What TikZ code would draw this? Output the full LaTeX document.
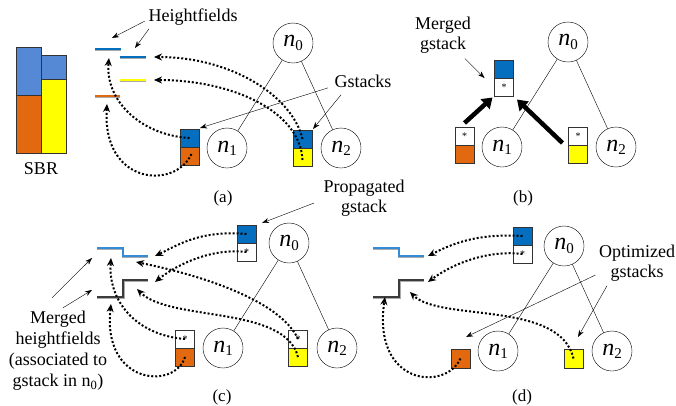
\documentclass[tikz,border=0pt]{standalone}
\usepackage{fontspec}
\setmainfont{Liberation Serif}
\newfontfamily\lserif{Liberation Serif}
\usetikzlibrary{arrows.meta,positioning}

\definecolor{sbrblue}{RGB}{85,137,213}
\definecolor{gblue}{RGB}{5,110,190}
\definecolor{hfblue}{RGB}{50,140,215}
\definecolor{gorange}{RGB}{226,105,15}
\definecolor{gyellow}{RGB}{255,255,0}
\definecolor{hfgrey}{RGB}{170,170,170}
\definecolor{hfdark}{RGB}{60,60,60}

\newcommand{\nlab}[1]{\lserif\fontsize{24}{24}\selectfont\textit{n}\raisebox{-0.3ex}{\fontsize{15}{15}\selectfont #1}}

\tikzset{
  treenode/.style={circle, draw, thin, minimum size=40pt, inner sep=0pt},
  gbox/.style={draw=black!80, minimum width=19pt, minimum height=18pt, inner sep=0pt, outer sep=0pt, font=\lserif\fontsize{10}{10}\selectfont},
  lbl/.style={font=\lserif\fontsize{18}{20}\selectfont, align=center},
  pointer/.style={thin, -{Stealth[length=7pt,width=5pt]}},
  dotarrow/.style={line width=2pt, dash pattern=on 2pt off 2pt, -{Stealth[length=8pt,width=7pt]}},
  fatarrow/.style={line width=4.5pt, -{Triangle[length=10pt,width=13pt]}},
  hfline/.style={line width=1.3pt}
}

\begin{document}
\begin{tikzpicture}[x=1pt, y=-1pt]
\useasboundingbox (0,0) rectangle (676,405);

% SBR
\draw[draw=black!80, fill=sbrblue] (16,47) rectangle (41,95);
\draw[draw=black!80, fill=gorange] (16,95) rectangle (41,153);
\draw[draw=black!80, fill=sbrblue] (41,55) rectangle (66,79);
\draw[draw=black!80, fill=gyellow] (41,79) rectangle (66,153);
\node[lbl] (sbr) at (41,169) {SBR};

% trees
\foreach \p/\x/\y in {a/293/43, b/568/42, c/289/243, d/564/246}{
   \node[treenode] (\p0) at (\x,\y) {\nlab{0}};
   \node[treenode] (\p1) at (\x-66,\y+105) {\nlab{1}};
   \node[treenode] (\p2) at (\x+48,\y+105) {\nlab{2}};
   \draw (\p0) -- (\p1) (\p0) -- (\p2);
   }

% heightfields (a)
\foreach \col/\xa/\xb/\yy in {gblue/95/121/49, gblue/120/146/57, gyellow/120/146/80, gorange/95/120/96}{
   \draw[hfline, hfgrey] (\xa,\yy+1.5) -- (\xb,\yy+1.5);
   \draw[hfline, \col] (\xa,\yy) -- (\xb,\yy);
   }

% heightfields (c) and (d)
\foreach \xo in {0,276}{
   \draw[hfline, hfgrey] (97+\xo,249.5) -- (123+\xo,249.5) -- (123+\xo,257.5) -- (148+\xo,257.5);
   \draw[hfline, hfblue] (97+\xo,248) -- (123+\xo,248) -- (123+\xo,256) -- (148+\xo,256);
   \draw[hfline, hfgrey] (97+\xo,298.5) -- (124.5+\xo,298.5) -- (124.5+\xo,281.5) -- (148+\xo,281.5);
   \draw[hfline, hfdark] (97+\xo,297) -- (123+\xo,297) -- (123+\xo,280) -- (148+\xo,280);
   }

% gstacks
\node[gbox, fill=gblue] (a1t) at (189.5,138) {};
\node[gbox, fill=gorange, below=0pt of a1t] (a1b) {};
\node[gbox, fill=gblue] (a2t) at (302.5,139) {};
\node[gbox, fill=gyellow, below=0pt of a2t] (a2b) {};

\node[gbox, fill=gblue] (bm1) at (504,69) {};
\node[gbox, fill=white, below=0pt of bm1] (bm2) {*};
\node[gbox, fill=white] (bl1) at (464.5,136) {*};
\node[gbox, fill=gorange, below=0pt of bl1] (bl2) {};
\node[gbox, fill=white] (br1) at (578,136) {*};
\node[gbox, fill=gyellow, below=0pt of br1] (br2) {};

\node[gbox, fill=gblue] (ct1) at (246.5,234) {};
\node[gbox, fill=white, below=0pt of ct1] (ct2) {*};
\node[gbox, fill=white] (cl1) at (185,339) {*};
\node[gbox, fill=gorange, below=0pt of cl1] (cl2) {};
\node[gbox, fill=white] (cr1) at (298,339) {*};
\node[gbox, fill=gyellow, below=0pt of cr1] (cr2) {};

\node[gbox, fill=gblue] (dt1) at (522.5,236) {};
\node[gbox, fill=white, below=0pt of dt1] (dt2) {*};
\node[gbox, fill=gorange, minimum height=19pt] (dL) at (460.5,358.5) {};
\node[gbox, fill=gyellow, minimum height=19pt] (dR) at (573.5,358.5) {};

% arrow ends at the heightfields
\coordinate (hfA) at (112,38);
\coordinate (hfB) at (135,48);
\coordinate (tA1) at (109,58);
\coordinate (tA2) at (107,104);
\coordinate (tA3) at (154,57);
\coordinate (tA4) at (154,80);
\coordinate (mhA) at (92,258);
\coordinate (mhB) at (92,290);
\coordinate (tC1) at (155,256);
\coordinate (tC2) at (155,282);
\coordinate (tC3) at (111,258);
\coordinate (tC4) at (111,304);
\coordinate (tC5) at (136,262);
\coordinate (tC6) at (137,289);
\coordinate (tD1) at (428,256);
\coordinate (tD2) at (428,282);
\coordinate (tD3) at (385,297);
\coordinate (tD4) at (410,292);

% labels
\node[lbl] (hflab) at (193,17) {Heightfields};
\node[lbl] (gslab) at (363,81) {Gstacks};
\node[lbl] (mglab) at (443,35) {Merged\\gstack};
\node[lbl] (pglab) at (364,198) {Propagated\\gstack};
\node[lbl, font=\lserif\fontsize{18}{21}\selectfont] (mhlab) at (58,351) {Merged\\heightfields\\(associated to\\gstack in n\textsubscript{0})};
\node[lbl] (oglab) at (637,263) {Optimized\\gstacks};

\node[lbl, font=\lserif\fontsize{17}{20}\selectfont] (capa) at (223,198) {(a)};
\node[lbl, font=\lserif\fontsize{17}{20}\selectfont] (capb) at (523,198) {(b)};
\node[lbl, font=\lserif\fontsize{17}{20}\selectfont] (capc) at (222,397) {(c)};
\node[lbl, font=\lserif\fontsize{17}{20}\selectfont] (capd) at (522,397) {(d)};

% pointers
\draw[pointer] ([yshift=-4pt]hflab.west) -- (hfA);
\draw[pointer] ([xshift=4pt]hflab.south west) -- (hfB);
\draw[pointer] ([xshift=-3pt,yshift=3pt]gslab.south west) -- ([xshift=1pt,yshift=1pt]a1t.north east);
\draw[pointer] ([xshift=10pt,yshift=-4pt]gslab.south west) -- ([xshift=1pt,yshift=1pt]a2t.north east);
\draw[pointer] ([xshift=22pt,yshift=-2pt]mglab.south) -- ([xshift=-10pt]bm2.north west);
\draw[pointer] ([xshift=-6pt,yshift=-5pt]pglab.west) -- ([xshift=6pt,yshift=2pt]ct1.north east);
\draw[pointer] ([xshift=-6pt,yshift=10pt]mhlab.north) -- (mhA);
\draw[pointer] ([xshift=5pt]mhlab.north) -- (mhB);
\draw[pointer] ([yshift=-12pt]oglab.west) -- ([xshift=-4pt,yshift=12pt]dL.north east);
\draw[pointer] ([xshift=-30pt,yshift=-1pt]oglab.south) -- ([xshift=4.5pt,yshift=12pt]dR.north);

\draw[fatarrow] ([yshift=4pt]bl1.north) -- ([xshift=-2pt,yshift=-1.5pt]bm2.south west);
\draw[fatarrow] ([xshift=-6pt,yshift=-7pt]br1.west) -- ([xshift=3.5pt,yshift=-3.5pt]bm2.south east);

% dotted arrows (a)
\draw[dotarrow] (a1t.center) .. controls (140,135) and (105,100) .. (tA1);
\draw[dotarrow] ([xshift=2pt,yshift=2pt]a1b.center) .. controls (175,190) and (102,185) .. (tA2);
\draw[dotarrow] (a2t.center) .. controls (292,95) and (230,57) .. (tA3);
\draw[dotarrow] ([yshift=-3pt]a2b.center) .. controls (300,110) and (230,80) .. (tA4);

% dotted arrows (c)
\draw[dotarrow] (ct1.center) .. controls (200,230) and (178,245) .. (tC1);
\draw[dotarrow] (ct2.center) .. controls (215,248) and (180,262) .. (tC2);
\draw[dotarrow] (cl1.center) .. controls (135,335) and (108,300) .. (tC3);
\draw[dotarrow] (cl2.center) .. controls (175,390) and (102,385) .. (tC4);
\draw[dotarrow] (cr1.center) .. controls (280,300) and (200,275) .. (tC5);
\draw[dotarrow] (cr2.center) .. controls (285,305) and (170,322) .. (tC6);

% dotted arrows (d)
\draw[dotarrow] (dt1.center) .. controls (475,233) and (450,245) .. (tD1);
\draw[dotarrow] (dt2.center) .. controls (490,250) and (455,262) .. (tD2);
\draw[dotarrow] (dL.center) .. controls (445,392) and (372,385) .. (tD3);
\draw[dotarrow] (dR.center) .. controls (560,300) and (440,322) .. (tD4);
\end{tikzpicture}
\end{document}
